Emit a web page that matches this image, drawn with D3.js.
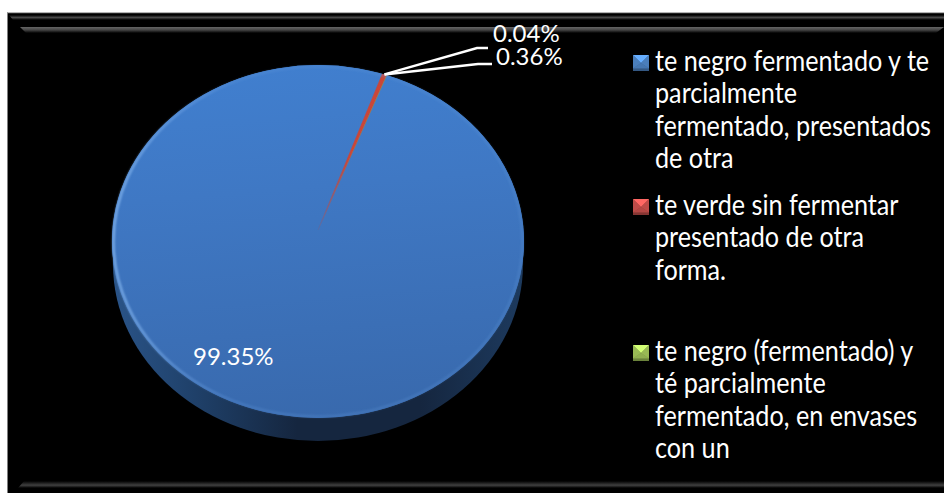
<!DOCTYPE html>
<html><head><meta charset="utf-8">
<script src="https://cdnjs.cloudflare.com/ajax/libs/d3/7.8.5/d3.min.js"></script>
<style>html,body{margin:0;padding:0;background:#fff}svg{display:block}text{font-family:Lato,"Open Sans",sans-serif;fill:#fff}</style>
</head><body><svg id="c" width="944" height="493"></svg>
<script>
const categories = ["te negro fermentado y te parcialmente fermentado, presentados de otra","te verde sin fermentar presentado de otra forma.","te negro (fermentado) y té parcialmente fermentado, en envases con un"];
const values = [99.35, 0.36, 0.04];
const valueLabels = ["99.35%","0.36%","0.04%"];
const legendLines = [
  ["te negro fermentado y te","parcialmente","fermentado, presentados","de otra"],
  ["te verde sin fermentar","presentado de otra","forma."],
  ["te negro (fermentado) y","té parcialmente","fermentado, en envases","con un"]
];
const colors = ["#4a7ebb","#be4b48","#98b954"];
const legendTop = [63, 207, 353];
const svg = d3.select("#c");
const defs = svg.append("defs");
function lin(id,stops,x1=0,y1=0,x2=0,y2=1){
  const g=defs.append("linearGradient").attr("id",id).attr("x1",x1).attr("y1",y1).attr("x2",x2).attr("y2",y2);
  stops.forEach(s=>g.append("stop").attr("offset",s[0]).attr("stop-color",s[1]).attr("stop-opacity",s[2]===undefined?1:s[2]));
}
lin("top",[[0,"#4285d8"],[0.45,"#3f78c4"],[1,"#3766a8"]],0.1,0,0.2,1);
lin("side",[[0,"#2a5488"],[0.2,"#1f4069"],[0.45,"#15263f"],[0.75,"#15263f"],[1,"#1d3a5e"]],0,0,1,0);
lin("rim",[[0,"#8cbcf2",0.85],[0.3,"#5f96dc",0.35],[1,"#5b90d2",0.35]],0,0.5,1,0.5);
lin("band1",[[0,"#000"],[0.5,"#4a4a4a"],[1,"#000"]]);
lin("band2",[[0,"#666"],[0.5,"#444"],[1,"#000"]]);
lin("band3",[[0,"#000"],[0.6,"#404040"],[1,"#000"]]);
defs.append("filter").attr("id","soft").attr("x","-5%").attr("y","-5%").attr("width","110%").attr("height","110%").append("feGaussianBlur").attr("stdDeviation",0.9);
const rg=defs.append("radialGradient").attr("id","fade").attr("gradientUnits","userSpaceOnUse").attr("cx",0).attr("cy",0).attr("r",200);
[[0,0.15],[0.12,0.5],[0.45,1],[1,1]].forEach(s=>rg.append("stop").attr("offset",s[0]).attr("stop-color","#fff").attr("stop-opacity",s[1]));
const mask=defs.append("mask").attr("id","fadeMask").attr("maskUnits","userSpaceOnUse").attr("x",-300).attr("y",-300).attr("width",600).attr("height",600);
mask.append("rect").attr("x",-300).attr("y",-300).attr("width",600).attr("height",600).attr("fill","url(#fade)");
// frame
svg.append("rect").attr("x",7.5).attr("y",12).attr("width",936.5).attr("height",481).attr("fill","#000");
svg.append("rect").attr("x",7.5).attr("y",12).attr("width",936.5).attr("height",1.2).attr("fill","#b4b4b4");
const bandLine=d3.line();
svg.append("path").attr("d",bandLine([[9,15],[944,15],[944,20],[13,20]])+"Z").attr("fill","url(#band1)");
svg.append("path").attr("d",bandLine([[20,27],[944,27],[936,33],[26,33]])+"Z").attr("fill","url(#band2)");
svg.append("path").attr("d",bandLine([[24,481],[944,481],[944,488],[18,488]])+"Z").attr("fill","url(#band3)");
// pie
const cx=318, cy=241.5, rx=206, ry=176.5, depth=23, apexY=230, yScale=ry/rx;
svg.append("ellipse").attr("cx",cx).attr("cy",cy+depth).attr("rx",rx-1).attr("ry",ry).attr("fill","url(#side)");
svg.append("rect").attr("x",cx-rx+1).attr("y",cy).attr("width",2*rx-2).attr("height",depth).attr("fill","url(#side)");
defs.append("clipPath").attr("id","topClip").append("ellipse").attr("cx",0).attr("cy",(cy-apexY)/yScale).attr("rx",rx).attr("ry",rx);
const startAngle=20.9*Math.PI/180;
const pie=d3.pie().sort(null).startAngle(startAngle).endAngle(startAngle+2*Math.PI);
const arcs=pie(values);
const arc=d3.arc().innerRadius(0).outerRadius(300);
const pieG=svg.append("g").attr("transform",`translate(${cx},${apexY}) scale(1,${yScale})`).attr("clip-path","url(#topClip)");
pieG.append("rect").attr("x",-rx).attr("y",-rx).attr("width",2*rx).attr("height",2*rx+30).attr("fill","url(#top)");
pieG.append("path").attr("d",arc(arcs[0])).attr("fill","url(#top)");
const sl=pieG.append("g").attr("mask","url(#fadeMask)");
sl.append("path").attr("d",arc(arcs[1])).attr("fill","#cc4638").attr("stroke","#cc4638").attr("stroke-width",0.7);
sl.append("path").attr("d",arc(arcs[2])).attr("fill","#8aa050");
svg.append("ellipse").attr("cx",cx).attr("cy",cy).attr("rx",rx-1.5).attr("ry",ry-1.5).attr("fill","none").attr("stroke","url(#rim)").attr("stroke-width",2.2).attr("filter","url(#soft)");
// leaders & labels
const mid=(arcs[1].startAngle+arcs[1].endAngle)/2;
const rimT=(()=>{const c=-Math.cos(mid);const dy=(apexY-cy)/yScale;const b=c*dy;return -b+Math.sqrt(b*b-(dy*dy-rx*rx));})();
const anchor=[cx+rimT*Math.sin(mid), apexY-rimT*Math.cos(mid)*yScale];
const leaders=[{e:[477,48],t:[488,48],i:2,lx:493,ly:42},{e:[478,64],t:[492,64],i:1,lx:496,ly:65}];
const line=d3.line();
leaders.forEach(l=>{
  svg.append("path").attr("d",line([anchor,l.e,l.t])).attr("fill","none").attr("stroke","#fff").attr("stroke-width",2.4);
  svg.append("text").attr("x",l.lx).attr("y",l.ly).attr("font-size",24).text(valueLabels[l.i]);
});
svg.append("text").attr("x",193).attr("y",365).attr("font-size",24).text(valueLabels[0]);
// legend
const lg=svg.append("g");
colors.forEach((c,i)=>{
  const y=legendTop[i]-8, x=633, s=16;
  const g=lg.append("g").attr("transform",`translate(${x},${y})`);
  g.append("rect").attr("width",s).attr("height",s).attr("fill",d3.color(c).darker(0.6));
  const tri=(pts,col)=>g.append("path").attr("d",line(pts)+"Z").attr("fill",col);
  tri([[0,0],[s,0],[s/2,s*0.5]],d3.color(c).brighter(0.9));
  tri([[0,0],[s/2,s*0.5],[0,s*0.85]],c);
  tri([[s,0],[s/2,s*0.5],[s,s*0.85]],c);
  tri([[0,s*0.85],[s/2,s*0.5],[s,s*0.85]],d3.color(c).darker(0.15));
  g.append("rect").attr("y",s*0.85).attr("width",s).attr("height",s*0.15).attr("fill",d3.color(c).darker(1));
  legendLines[i].forEach((t,j)=>{
    lg.append("text").attr("transform",`translate(655,${legendTop[i]+8+j*32.3}) scale(0.9,1)`).attr("font-size",28).text(t);
  });
});
</script></body></html>
